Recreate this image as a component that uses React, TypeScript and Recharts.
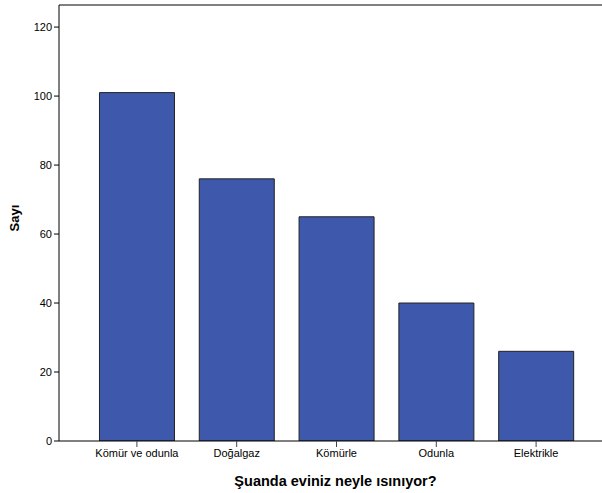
import React from "react";
import {
  BarChart,
  Bar,
  XAxis,
  YAxis,
  ReferenceLine,
  Label,
} from "recharts";

// Isınma türü kategorileri ve sayıları
const categories = ["Kömür ve odunla", "Doğalgaz", "Kömürle", "Odunla", "Elektrikle"];
const counts = [101, 76, 65, 40, 26];
const yTicks = [0, 20, 40, 60, 80, 100, 120];
const yMax = 126.4;

const data = categories.map((name, i) => ({ name, count: counts[i] }));

const font = "'Liberation Sans', Arial, sans-serif";

const App = () => {
  return (
    <div style={{ position: "absolute", top: 0, left: 0, width: 602, height: 493, background: "#fff" }}>
      <BarChart
        width={602}
        height={493}
        data={data}
        margin={{ top: 5, right: 0, bottom: 0, left: 0 }}
        barCategoryGap="12.5%"
      >
        <XAxis
          dataKey="name"
          height={52}
          padding={{ left: 28, right: 16 }}
          axisLine={{ stroke: "#000", strokeWidth: 1 }}
          tickLine={{ stroke: "#444" }}
          tickSize={6}
          tickMargin={2}
          tick={{ fill: "#000", fontSize: 11, fontFamily: font }}
          interval={0}
        >
          <Label
            value="Şuanda eviniz neyle ısınıyor?"
            position="insideBottom"
            offset={7}
            dx={5}
            style={{ fill: "#000", fontSize: 14.5, fontWeight: "bold", fontFamily: font }}
          />
        </XAxis>
        <YAxis
          width={59}
          domain={[0, yMax]}
          ticks={yTicks}
          allowDataOverflow
          axisLine={{ stroke: "#000", strokeWidth: 1 }}
          tickLine={{ stroke: "#000" }}
          tickSize={5}
          tickMargin={2}
          tick={{ fill: "#000", fontSize: 11, fontFamily: font }}
        >
          <Label
            value="Sayı"
            angle={-90}
            position="insideLeft"
            offset={14}
            dy={-5}
            style={{ fill: "#000", fontSize: 13, fontWeight: "bold", fontFamily: font, textAnchor: "middle" }}
          />
        </YAxis>
        <ReferenceLine y={yMax} stroke="#808080" strokeWidth={2} />
        <Bar
          dataKey="count"
          fill="#3e58ac"
          stroke="#222"
          strokeWidth={1}
          isAnimationActive={false}
        />
      </BarChart>
    </div>
  );
};

export default App;
